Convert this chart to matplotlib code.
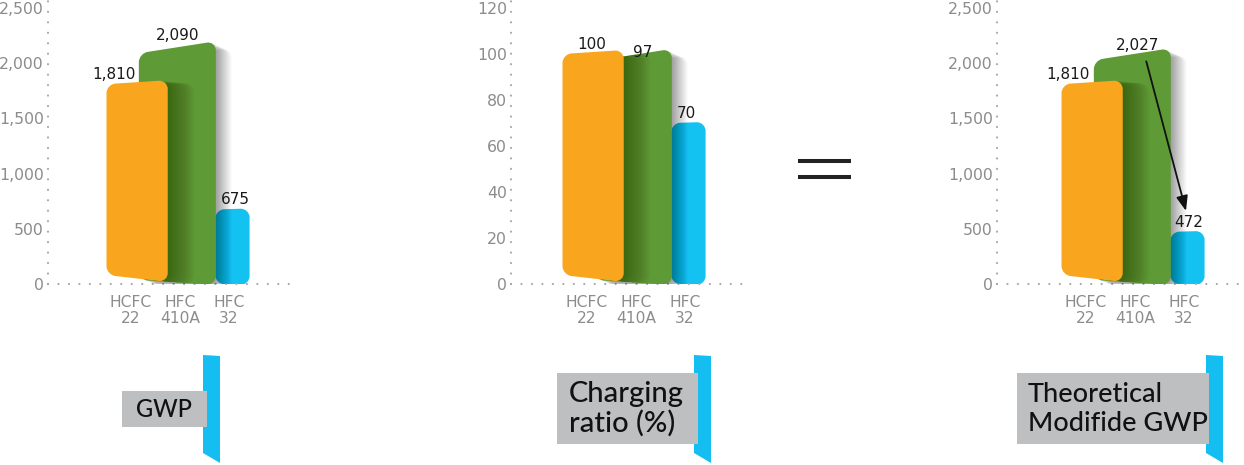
import matplotlib
matplotlib.use('Agg')
import matplotlib.pyplot as plt
import numpy as np
from matplotlib.path import Path
from matplotlib.patches import PathPatch, Rectangle, Polygon
from matplotlib.lines import Line2D
from matplotlib.transforms import Affine2D
from matplotlib.ticker import FuncFormatter

# ---------------- data ----------------
categories = ['HCFC\n22', 'HFC\n410A', 'HFC\n32']
gwp = [1810, 2090, 675]
charging_ratio = [100, 97, 70]
modified_gwp = [1810, 2027, 472]
panel_titles = ['GWP', 'Charging\nratio (%)', 'Theoretical\nModifide GWP']
yticks_gwp = [0, 500, 1000, 1500, 2000, 2500]
yticks_ratio = [0, 20, 40, 60, 80, 100, 120]

# ---------------- style ----------------
W, H, DPI = 1244, 465, 100
UNIT = 49.0  # px per category step
bar_colors = ['#F9A61E', '#5E9A36', '#14C2F2']
bar_left = [-0.50, -0.84, -0.28]     # in category units, relative to tick
bar_right = [0.75, 0.73, 0.42]
bar_tilt = [4, 12, 1]                # px the top-right rises above top-left
bar_bot = [(9, 2), (4, -1), (0, -1)] # px above zero line (left, right)
bar_z = [6, 4, 2]
radius = 9
tick_gray = '#8c8c8c'

fig = plt.figure(figsize=(W / DPI, H / DPI), dpi=DPI)


def px_ax(axis_x, first_label_x, right_x, top_y=8, zero_y=284):
    ax = fig.add_axes([axis_x / W, (H - zero_y) / H, (right_x - axis_x) / W, (zero_y - top_y) / H])
    ax.set_xlim(-(first_label_x - axis_x) / UNIT, (right_x - first_label_x) / UNIT)
    return ax


def rounded_path(pts, r):
    verts, codes = [], []
    n = len(pts)
    for i in range(n):
        p = np.array(pts[i], float)
        a = np.array(pts[i - 1], float)
        b = np.array(pts[(i + 1) % n], float)
        da, db = a - p, b - p
        la, lb = np.hypot(*da), np.hypot(*db)
        ri = min(r, la / 2, lb / 2)
        s = p + da / la * ri
        e = p + db / lb * ri
        verts.append(s)
        codes.append(Path.MOVETO if i == 0 else Path.LINETO)
        verts += [s + (p - s) * 0.55, e + (p - e) * 0.55, e]
        codes += [Path.CURVE4] * 3
    verts.append(verts[0])
    codes.append(Path.CLOSEPOLY)
    return np.array(verts), codes


def style_axes(ax, yticks, ylim_top):
    ax.set_ylim(0, ylim_top)
    ax.set_yticks(yticks)
    ax.yaxis.set_major_formatter(FuncFormatter(lambda v, p: f'{v:,.0f}'))
    ax.set_xticks(range(len(categories)))
    ax.set_xticklabels(categories, linespacing=1.1)
    for s in ['top', 'right']:
        ax.spines[s].set_visible(False)
    for s in ['left', 'bottom']:
        sp = ax.spines[s]
        sp.set_color('#a8a8a8')
        sp.set_linewidth(1.6)
        sp.set_linestyle((0, (0.01, 4.7)))
        sp.set_capstyle('round')
    ax.spines['left'].set_bounds(0, ylim_top * 1.03)
    ax.tick_params(length=0, labelcolor=tick_gray, labelsize=11.3)
    ax.tick_params(axis='y', pad=3)
    ax.tick_params(axis='x', pad=8, labelsize=11.2)
    ax.patch.set_alpha(0)


def add_shadow(ax, path, z, clip=None, steps=28, step=0.5, alpha=0.012, drop=0.5):
    T = ax.transData
    for k in range(steps):
        dx = (k + 1) * step
        sh = PathPatch(path, facecolor='black', edgecolor='none', alpha=alpha,
                       zorder=z, transform=T + Affine2D().translate(dx, -dx * drop))
        ax.add_patch(sh)
        if clip is not None:
            sh.set_clip_path(clip)


def draw_bars(ax, values, label_dx, label_dy):
    T = ax.transData
    lefts = [i + bar_left[i] for i in range(len(values))]
    widths = [bar_right[i] - bar_left[i] for i in range(len(values))]
    cont = ax.bar(lefts, values, width=widths, align='edge', alpha=0)
    patches, paths = [], []
    for i, rect in enumerate(cont.patches):
        x0, x1 = rect.get_x(), rect.get_x() + rect.get_width()
        (pxl, py0), (pxr, pyv) = T.transform([(x0, 0), (x1, rect.get_height())])
        bl, br = bar_bot[i]
        pts = [(pxl, py0 + bl), (pxr, py0 + br), (pxr, pyv + bar_tilt[i]), (pxl, pyv)]
        v, c = rounded_path(pts, radius)
        path = Path(T.inverted().transform(v), c)
        paths.append(path)
        pp = PathPatch(path, facecolor=bar_colors[i], edgecolor='none', zorder=bar_z[i], transform=T)
        ax.add_patch(pp)
        patches.append(pp)
    # soft shadows: green onto blue/background, orange onto green
    add_shadow(ax, paths[1], 3, None, steps=32, step=0.5, alpha=0.0105, drop=0.45)
    add_shadow(ax, paths[0], 5, patches[1], steps=36, step=0.75, alpha=0.009, drop=0.1)
    # value labels
    for i, v in enumerate(values):
        ax.annotate(f'{v:,}', xy=(i + label_dx[i], v), xytext=(0, label_dy[i]),
                    textcoords='offset points', ha='center', va='bottom',
                    fontsize=11, color='#1a1a1a', zorder=10, annotation_clip=False)
    return cont


# ---- panel 1: GWP
ax1 = px_ax(48, 131, 297)
style_axes(ax1, yticks_gwp, 2500)
draw_bars(ax1, gwp, [-0.35, -0.05, 0.12], [1.5, 7.5, 1.5])

# ---- panel 2: charging ratio
ax2 = px_ax(511, 587, 742)
style_axes(ax2, yticks_ratio, 120)
draw_bars(ax2, charging_ratio, [0.1, 0.14, 0.02], [1.5, 1.0, 1.5])

# ---- panel 3: theoretical modified GWP
ax3 = px_ax(997, 1086, 1242)
style_axes(ax3, yticks_gwp, 2500)
draw_bars(ax3, modified_gwp, [-0.37, 0.06, 0.1], [1.5, 5.5, 1.5])
ax3.annotate('', xy=(2.04, modified_gwp[2] + 190), xytext=(1.23, modified_gwp[1] - 10),
             arrowprops=dict(arrowstyle='-|>,head_length=0.9,head_width=0.35', lw=1.3,
                             color='#111111', shrinkA=0, shrinkB=0), zorder=12)

# ---------------- decorations: title boxes, tabs, equal sign ----------------
def fx(x):
    return x / W


def fy(y):
    return (H - y) / H


box_gray = '#BEBFC1'
tab_blue = '#14BEF0'
# (box x0, x1, y0, y1), tab x0, x1
boxes = [((122, 207, 391, 427), (203, 220)),
         ((557, 698, 373, 444), (694, 711)),
         ((1017, 1209, 373, 444), (1206, 1223))]
for (bx0, bx1, by0, by1), (tx0, tx1) in boxes:
    tab = Polygon([(fx(tx0), fy(355)), (fx(tx1), fy(356)), (fx(tx1), fy(463)),
                   (fx(tx0), fy(453))], closed=True, transform=fig.transFigure,
                  facecolor=tab_blue, edgecolor='none', zorder=1)
    fig.patches.append(tab)
    box = Rectangle((fx(bx0), fy(by1)), fx(bx1 - bx0), (by1 - by0) / H, transform=fig.transFigure,
                    facecolor=box_gray, edgecolor='none', zorder=2)
    fig.patches.append(box)

title_font = ['Lato', 'DejaVu Sans']
fig.text(fx(164), fy(409), panel_titles[0], ha='center', va='center', fontsize=17,
         color='#111111', family=title_font, fontweight='medium')
fig.text(fx(569), fy(409), panel_titles[1], ha='left', va='center', fontsize=21,
         color='#111111', family=title_font, linespacing=1.15, fontweight='medium')
fig.text(fx(1028), fy(409), panel_titles[2], ha='left', va='center', fontsize=19.5,
         color='#111111', family=title_font, linespacing=1.22, fontweight='medium')

for yy in (161, 177):
    fig.lines.append(Line2D([fx(798), fx(851)], [fy(yy), fy(yy)], transform=fig.transFigure,
                            color='#222222', lw=2.9, solid_capstyle='butt'))

fig.savefig('out.png', dpi=DPI)
